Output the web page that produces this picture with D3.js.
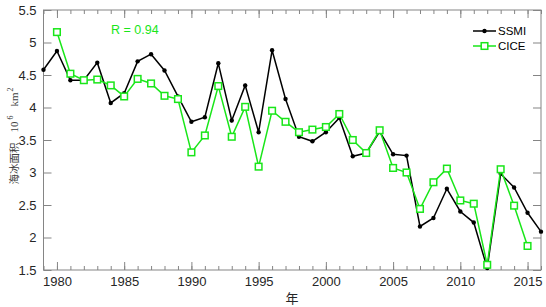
<!DOCTYPE html>
<html>
<head>
<meta charset="utf-8">
<script src="https://cdn.jsdelivr.net/npm/d3@7"></script>
<style>
  body { margin: 0; background: #fff; }
  svg { display: block; font-family: "Liberation Sans", Arial, sans-serif; }
  .ax text { fill: #262626; font-size: 13px; }
  .ax line, .ax path { stroke: #858585; }
</style>
</head>
<body>
<div id="chart"></div>
<script>
const years= d3.range(1979, 2017);
const ssmi= [4.58, 4.87, 4.42, 4.42, 4.69, 4.07, 4.22, 4.71, 4.82, 4.57,
  4.17, 3.78, 3.85, 4.68, 3.80, 4.34, 3.62, 4.88, 4.13, 3.55,
  3.48, 3.62, 3.84, 3.25, 3.30, 3.63, 3.28, 3.26, 2.17, 2.30,
  2.75, 2.40, 2.23, 1.53, 2.98, 2.77, 2.38, 2.09];
const ciceYears= d3.range(1980, 2016);
const cice= [5.16, 4.52, 4.42, 4.43, 4.34, 4.17, 4.44, 4.37, 4.18, 4.13,
  3.31, 3.57, 4.33, 3.55, 4.01, 3.09, 3.95, 3.78, 3.62, 3.66,
  3.70, 3.90, 3.50, 3.30, 3.65, 3.07, 3.00, 2.44, 2.85, 3.06,
  2.57, 2.52, 1.58, 3.05, 2.49, 1.87];
const xMajor= [1980, 1985, 1990, 1995, 2000, 2005, 2010, 2015];
const yTicks= [1.5, 2, 2.5, 3, 3.5, 4, 4.5, 5, 5.5];
const rText= 'R = 0.94';

const W= 546, H= 307;
const MAR= { top: 10, right: 5, bottom: 37, left: 43.5 };
const iW= W-MAR.left-MAR.right;
const iH= H-MAR.top-MAR.bottom;
const GREEN= '#19e619';

const svg= d3.select('#chart').append('svg').attr('width', W).attr('height', H);
const g= svg.append('g').attr('transform', `translate(${MAR.left},${MAR.top})`);

const xSc= d3.scaleLinear().domain([1979, 2016]).range([0, iW]);
const ySc= d3.scaleLinear().domain([1.5, 5.5]).range([iH, 0]);

// frame
g.append('rect').attr('width', iW).attr('height', iH)
  .attr('fill', 'none').attr('stroke', '#858585');

// bottom axis
g.append('g').attr('class', 'ax').attr('transform', `translate(0,${iH})`)
  .call(d3.axisBottom(xSc).tickValues(xMajor).tickFormat(d3.format('d')).tickSize(-8).tickPadding(7))
  .call(a => a.select('.domain').remove());
g.append('g').attr('class', 'ax').attr('transform', `translate(0,${iH})`)
  .call(d3.axisBottom(xSc).tickValues(years).tickFormat('').tickSize(-4))
  .call(a => a.select('.domain').remove());
// top axis
g.append('g').attr('class', 'ax')
  .call(d3.axisTop(xSc).tickValues(xMajor).tickFormat('').tickSize(-8))
  .call(a => a.select('.domain').remove());
g.append('g').attr('class', 'ax')
  .call(d3.axisTop(xSc).tickValues(years).tickFormat('').tickSize(-4))
  .call(a => a.select('.domain').remove());
// left / right axes
g.append('g').attr('class', 'ax')
  .call(d3.axisLeft(ySc).tickValues(yTicks).tickFormat(d3.format('')).tickSize(-8).tickPadding(7))
  .call(a => a.select('.domain').remove());
g.append('g').attr('class', 'ax').attr('transform', `translate(${iW},0)`)
  .call(d3.axisRight(ySc).tickValues(yTicks).tickFormat('').tickSize(-8))
  .call(a => a.select('.domain').remove());

const line= d3.line().x(d => xSc(d[0])).y(d => ySc(d[1]));
const ssmiPts= years.map((y, i) => [y, ssmi[i]]);
const cicePts= ciceYears.map((y, i) => [y, cice[i]]);

g.append('path').attr('d', line(ssmiPts))
  .attr('fill', 'none').attr('stroke', '#000').attr('stroke-width', 1.5);
g.selectAll(null).data(ssmiPts).join('circle')
  .attr('cx', d => xSc(d[0])).attr('cy', d => ySc(d[1]))
  .attr('r', 2.2).attr('fill', '#000');

g.append('path').attr('d', line(cicePts))
  .attr('fill', 'none').attr('stroke', GREEN).attr('stroke-width', 1.5);
g.selectAll(null).data(cicePts).join('rect')
  .attr('x', d => xSc(d[0])-3.3).attr('y', d => ySc(d[1])-3.3)
  .attr('width', 6.6).attr('height', 6.6)
  .attr('fill', '#fff').attr('stroke', GREEN).attr('stroke-width', 1.5);

// R annotation
svg.append('text').attr('x', 111).attr('y', 34)
  .attr('fill', GREEN).attr('font-size', 12.5).text(rText);

// legend
const legend= [
  { label: 'SSMI', color: '#000', y: 31, mark: 'dot' },
  { label: 'CICE', color: GREEN, y: 46, mark: 'sq' },
];
legend.forEach(l => {
  svg.append('line').attr('x1', 473).attr('x2', 496).attr('y1', l.y).attr('y2', l.y)
    .attr('stroke', l.color).attr('stroke-width', 1.5);
  if (l.mark === 'dot') {
    svg.append('circle').attr('cx', 484.5).attr('cy', l.y).attr('r', 2.2).attr('fill', l.color);
  } else {
    svg.append('rect').attr('x', 481.2).attr('y', l.y-3.3).attr('width', 6.6).attr('height', 6.6)
      .attr('fill', '#fff').attr('stroke', l.color).attr('stroke-width', 1.5);
  }
  svg.append('text').attr('x', 498).attr('y', l.y+4)
    .attr('font-size', 11.5).attr('fill', '#000').text(l.label);
});

// axis labels
svg.append('text').attr('x', 292).attr('y', 303).attr('text-anchor', 'middle')
  .attr('font-family', '"Noto Sans CJK SC", sans-serif').attr('font-size', 13)
  .attr('fill', '#262626').text('年');

const SERIF= '"Liberation Serif", serif';
const yl= svg.append('text')
  .attr('transform', 'translate(17.5,136) rotate(-90)')
  .attr('text-anchor', 'middle').attr('font-size', 11).attr('fill', '#404040');
yl.append('tspan').attr('font-family', '"Noto Sans CJK SC", sans-serif').attr('font-size', 10.5).text('海冰面积');
yl.append('tspan').attr('font-family', SERIF).attr('dx', 10).text('10');
yl.append('tspan').attr('font-family', SERIF).attr('font-size', 8).attr('dx', 2).attr('dy', -5).text('6');
yl.append('tspan').attr('font-family', SERIF).attr('dx', 9).attr('dy', 5).text('km');
yl.append('tspan').attr('font-family', SERIF).attr('font-size', 8).attr('dx', 1).attr('dy', -5).text('2');
</script>
</body>
</html>
